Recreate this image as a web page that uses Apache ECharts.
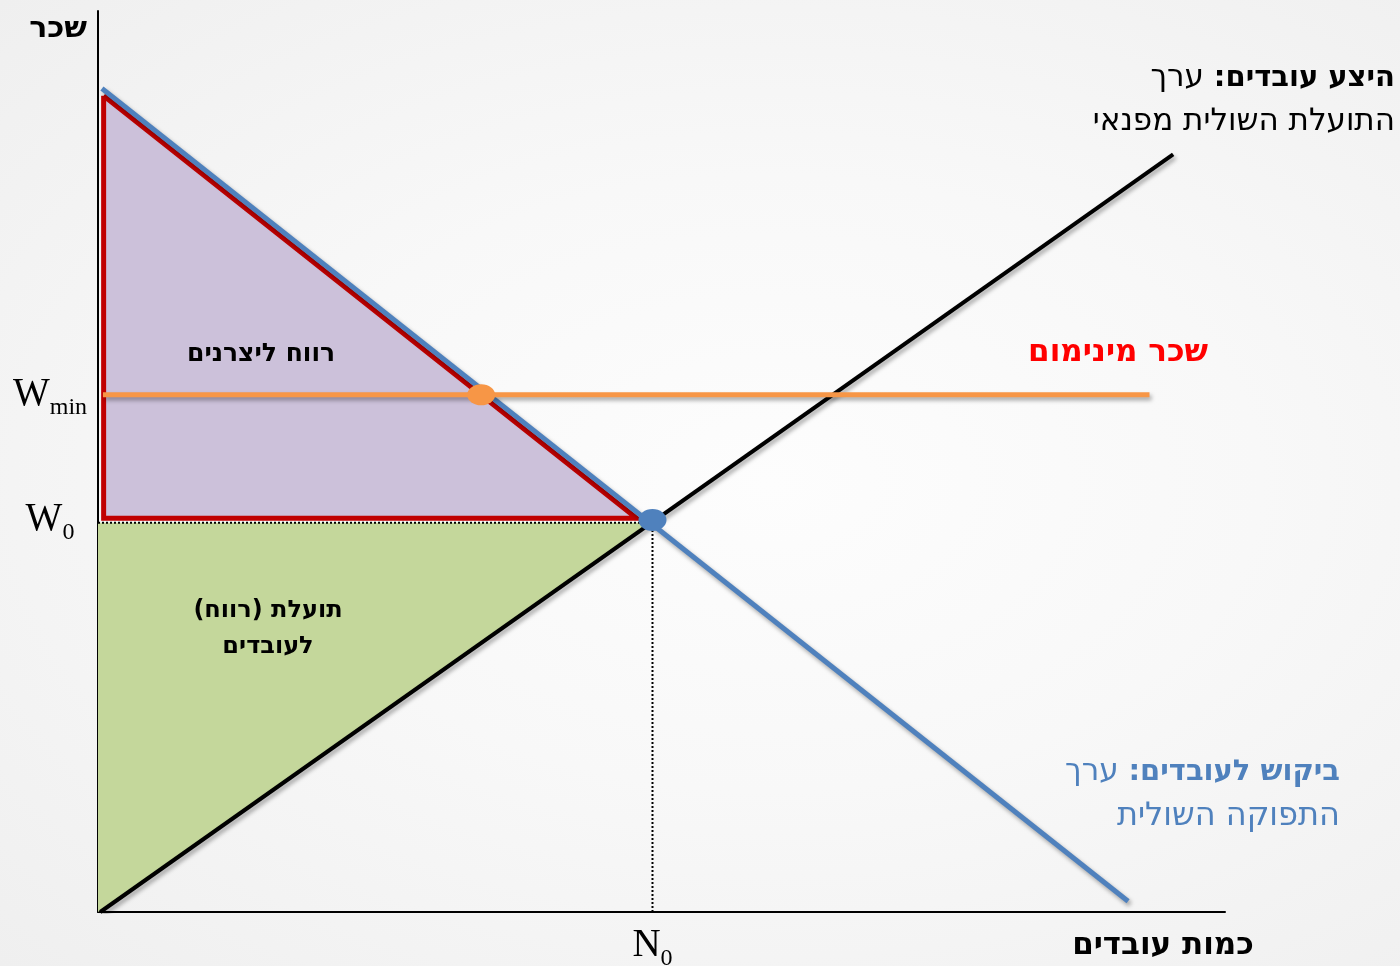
<!DOCTYPE html>
<html>
<head>
<meta charset="utf-8">
<script src="https://cdn.jsdelivr.net/npm/echarts@6/dist/echarts.min.js"></script>
<style>
	html, body { margin: 0; padding: 0; }
	#main {
		width: 1400px; height: 966px;
		background: radial-gradient(ellipse at 55% 50%, #fdfdfd 0%, #f8f8f8 45%, #efefef 100%);
	}
</style>
</head>
<body>
<div id="main"></div>
<script>
// labour market: demand (MRP), supply (MU of leisure), minimum wage
var demandLine = [[0.35, 91.4], [91.4, 1.2]];
var supplyLine = [[0.2, 0], [95.4, 84.1]];
var minWageLine = [[0.44, 57.4], [93.3, 57.4]];
var equilibrium = [[49.2, 43.5]];
var minWagePoint = [[34.0, 57.4]];
var producerArea = [[0.5, 90.6], [0.5, 43.7], [47.8, 43.7], [0.5, 90.6]];
var workerArea = [[0, 43.2], [49.2, 43.2], [0, 0]];
var wageDotted = [[0, 43.2], [49.2, 43.2]];
var qtyDotted = [[49.2, 0], [49.2, 43.5]];
var wageTicks = [43.5, 57.4];
var wageSubs = ['0', 'min'];
var qtyTicks = [49.2];
var qtySubs = ['0'];

var RLM = '\u200F';
var heb = '"DejaVu Sans", "Liberation Sans", sans-serif';
var serif = '"Liberation Serif", "DejaVu Serif", serif';

function polygon(points, style, z) {
	return {
		type: 'custom',
		silent: true,
		z: z,
		data: [0],
		renderItem: function(params, api) {
			return {
				type: 'polygon',
				shape: { points: points.map(function(p) { return api.coord(p); }) },
				style: style
			};
		}
	};
}

function subLabel(letter, subs, ticks) {
	return function(v) {
		var i = ticks.indexOf(v);
		if (i < 0) return '';
		return '{w|' + letter + '}{s|' + subs[i] + '}';
	};
}

var labelRich = {
	w: { fontFamily: serif, fontSize: 39, color: '#000', lineHeight: 40 },
	s: { fontFamily: serif, fontSize: 24, color: '#000', lineHeight: 24, padding: [26, 0, 0, 0] }
};

var shadow = { shadowColor: 'rgba(0,0,0,0.35)', shadowBlur: 4, shadowOffsetX: 2, shadowOffsetY: 3 };

function txt(x, y, text, font, color, align, z) {
	return { type: 'text', x: x, y: y, z: z || 20, style: { text: text, font: font, fill: color, align: align, verticalAlign: 'middle' } };
}

var myChart = echarts.init(document.getElementById('main'));
var option = {
	backgroundColor: 'transparent',
	animation: false,
	grid: { left: 98, right: 175, top: 11, bottom: 54, outerBoundsMode: 'none', containLabel: false },
	xAxis: {
		type: 'value', min: 0, max: 100,
		splitLine: { show: false },
		axisTick: { show: false },
		axisLine: { lineStyle: { color: '#000', width: 2 } },
		axisLabel: {
			customValues: qtyTicks,
			margin: 14,
			formatter: subLabel('N', qtySubs, qtyTicks),
			rich: labelRich
		}
	},
	yAxis: {
		type: 'value', min: 0, max: 100,
		splitLine: { show: false },
		axisTick: { show: false },
		axisLine: { lineStyle: { color: '#000', width: 2 } },
		axisLabel: {
			customValues: wageTicks,
			margin: 48,
			align: 'center',
			formatter: subLabel('W', wageSubs, wageTicks),
			rich: labelRich
		}
	},
	graphic: [
		txt(87, 29, 'שכר', 'bold 30px ' + heb, '#000', 'right'),
		txt(1163, 946, 'כמות עובדים', 'bold 31px ' + heb, '#000', 'center'),
		{ type: 'text', x: 1395, y: 78, z: 20, style: {
			text: '{r|ערך }{b|' + RLM + 'היצע עובדים:' + RLM + '}', align: 'right', verticalAlign: 'middle',
			rich: { r: { font: '31px ' + heb, fill: '#000' }, b: { font: 'bold 29px ' + heb, fill: '#000' } } } },
		txt(1395, 122, 'התועלת השולית מפנאי', '31px ' + heb, '#000', 'right'),
		txt(1208, 353, 'שכר מינימום', 'bold 31px ' + heb, '#ff0000', 'right'),
		{ type: 'text', x: 1340, y: 772, z: 20, style: {
			text: '{r|ערך }{b|' + RLM + 'ביקוש לעובדים:' + RLM + '}', align: 'right', verticalAlign: 'middle',
			rich: { r: { font: '31px ' + heb, fill: '#4f81bd' }, b: { font: 'bold 29px ' + heb, fill: '#4f81bd' } } } },
		txt(1340, 817, 'התפוקה השולית', '32px ' + heb, '#4f81bd', 'right'),
		txt(261, 354, 'רווח ליצרנים', 'bold 25px ' + heb, '#000', 'center', 50),
		txt(268, 611, RLM + 'תועלת (רווח)' + RLM, 'bold 24px ' + heb, '#000', 'center', 50),
		txt(268, 647, 'לעובדים', 'bold 24px ' + heb, '#000', 'center', 50)
	],
	series: [
		polygon(workerArea, { fill: '#c4d79b' }, 1),
		polygon(producerArea, { fill: '#ccc1da' }, 2),
		{
			type: 'line', data: producerArea, symbol: 'none', z: 3, silent: true,
			lineStyle: { color: '#c00000', width: 5, join: 'miter' }
		},
		{
			type: 'line', data: wageDotted, symbol: 'none', z: 3, silent: true,
			lineStyle: { color: '#000', width: 2, type: [2, 2] }
		},
		{
			type: 'line', data: qtyDotted, symbol: 'none', z: 3, silent: true,
			lineStyle: { color: '#000', width: 2, type: [2, 2] }
		},
		{
			type: 'line', data: supplyLine, symbol: 'none', z: 4,
			lineStyle: Object.assign({ color: '#000', width: 4 }, shadow)
		},
		{
			type: 'line', data: demandLine, symbol: 'none', z: 5,
			lineStyle: Object.assign({ color: '#4f81bd', width: 5 }, shadow)
		},
		{
			type: 'line', data: minWageLine, symbol: 'none', z: 6,
			lineStyle: Object.assign({ color: '#f79646', width: 5 }, shadow)
		},
		{
			type: 'scatter', data: minWagePoint, z: 7, symbol: 'circle', symbolSize: [28, 21],
			itemStyle: { color: '#f79646', opacity: 1 }
		},
		{
			type: 'scatter', data: equilibrium, z: 7, symbol: 'circle', symbolSize: [28, 22],
			itemStyle: { color: '#4f81bd', opacity: 1 }
		}
	]
};
myChart.setOption(option);
</script>
</body>
</html>
